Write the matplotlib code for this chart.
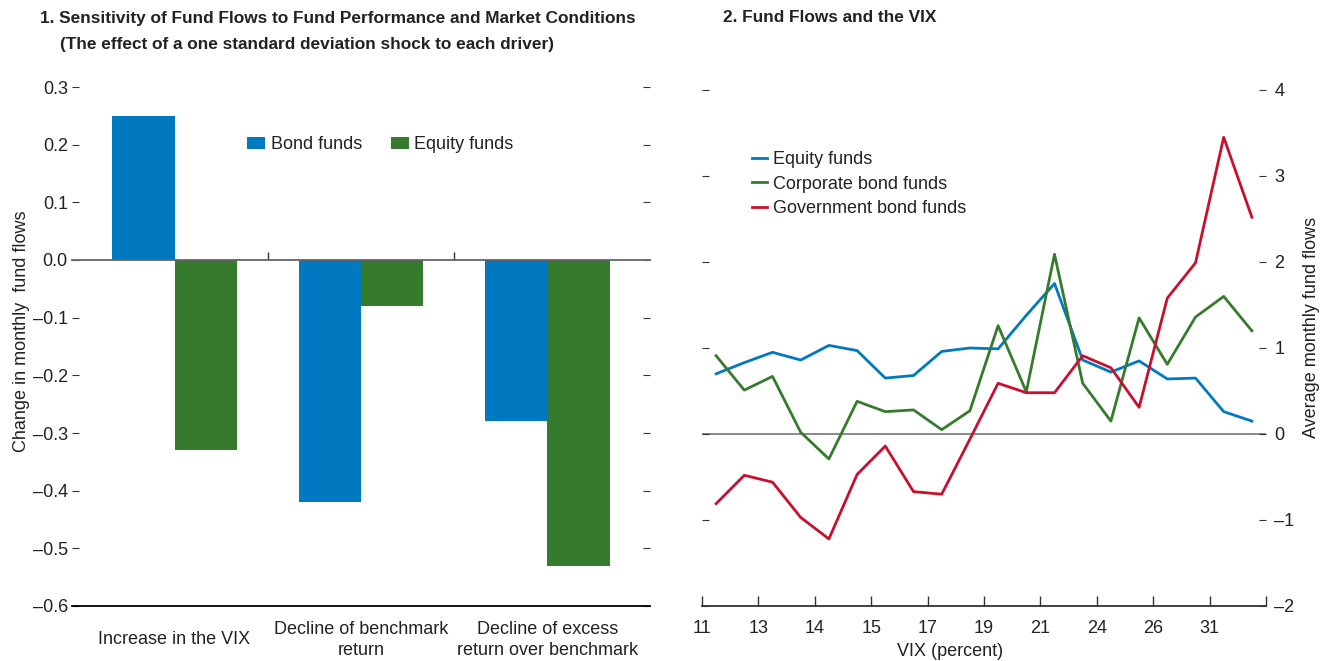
import matplotlib
matplotlib.use("Agg")
import matplotlib.pyplot as plt
import numpy as np

plt.rcParams['font.family'] = ['Liberation Sans', 'DejaVu Sans']

# ---------------- data ----------------
drivers = ["Increase in the VIX", "Decline of benchmark\nreturn", "Decline of excess\nreturn over benchmark"]
bond_funds = [0.25, -0.42, -0.28]
equity_funds = [-0.33, -0.08, -0.53]

vix_tick_labels = ["11", "13", "14", "15", "17", "19", "21", "24", "26", "31", ""]
equity_flows = [0.70, 0.83, 0.95, 0.86, 1.03, 0.97, 0.65, 0.68, 0.96, 1.00,
                0.99, 1.38, 1.75, 0.86, 0.72, 0.85, 0.64, 0.65, 0.26, 0.15]
corp_bond_flows = [0.91, 0.51, 0.67, 0.02, -0.29, 0.38, 0.26, 0.28, 0.05, 0.27,
                   1.26, 0.49, 2.09, 0.59, 0.15, 1.35, 0.81, 1.36, 1.60, 1.20]
gov_bond_flows = [-0.81, -0.48, -0.56, -0.97, -1.22, -0.47, -0.14, -0.67, -0.70, -0.06,
                  0.59, 0.48, 0.48, 0.91, 0.77, 0.31, 1.58, 1.99, 3.45, 2.52]

BLUE = "#0079C1"
GREEN = "#367B2D"
RED = "#C8102E"
TXT = "#222222"
FS = 13
TFS = 12.4

W, H = 1321, 661
fig = plt.figure(figsize=(W / 100, H / 100), dpi=100)

def box(l, t, r, b):
    return [l / W, 1 - b / H, (r - l) / W, (b - t) / H]

def fmt(v, nd):
    v = round(v, nd)
    if v == 0:
        v = 0.0
    s = f"{v:.{nd}f}"
    return s.replace("-", "\u2013")

# ---------------- panel 1 ----------------
ax1 = fig.add_axes(box(72, 87, 650, 606))
x = np.arange(len(drivers))
bw = 0.333
ax1.bar(x - bw / 2, bond_funds, bw, color=BLUE, label="Bond funds", zorder=2)
ax1.bar(x + bw / 2, equity_funds, bw, color=GREEN, label="Equity funds", zorder=2)
ax1.set_xlim(-0.55, 2.55)
ax1.set_ylim(-0.6, 0.3)
yt1 = np.round(np.arange(-0.6, 0.31, 0.1), 1)
ax1.set_yticks(yt1)
ax1.set_yticklabels([fmt(v, 1) for v in yt1])
for s in ["left", "right", "top"]:
    ax1.spines[s].set_visible(False)
ax1.spines["bottom"].set_position(("data", 0))
ax1.spines["bottom"].set_color("#666666")
ax1.spines["bottom"].set_linewidth(1.3)
ax1.spines["bottom"].set_zorder(3)
ax1.set_xticks([0.5, 1.5])
ax1.set_xticklabels([])
ax1.tick_params(axis="x", direction="in", length=6, width=1, color="#333333")
ax1.tick_params(axis="y", direction="in", length=5, width=0.8, color="#333333",
                left=True, right=True, labelleft=True, labelright=False,
                labelsize=FS, labelcolor=TXT, pad=3)
ax1.axhline(-0.6, color="black", lw=1.3, clip_on=False, zorder=3)
for i, lab in enumerate(drivers):
    ax1.annotate(lab, xy=(i, 0), xycoords=("data", "axes fraction"),
                 xytext=(0, -34), textcoords="offset pixels",
                 ha="center", va="center", fontsize=FS, color=TXT, linespacing=1.3)
ax1.set_ylabel("Change in monthly  fund flows", fontsize=FS, color=TXT, va="center")
ax1.yaxis.set_label_coords((22 - 72) / 578, 0.53)
ax1.legend(loc="upper left", bbox_to_anchor=((240 - 72) / 578, (606 - 129) / 519),
           ncol=2, frameon=False, fontsize=FS, handlelength=1.0, handleheight=0.7,
           handletextpad=0.3, columnspacing=1.6, borderaxespad=0, labelcolor=TXT)

# ---------------- panel 2 ----------------
ax2 = fig.add_axes(box(702, 90, 1266, 606))
xi = np.arange(len(equity_flows))
ax2.axhline(0, color="#808080", lw=1.3, zorder=1)
ax2.plot(xi, equity_flows, color=BLUE, lw=2, label="Equity funds", zorder=3)
ax2.plot(xi, corp_bond_flows, color=GREEN, lw=2, label="Corporate bond funds", zorder=3)
ax2.plot(xi, gov_bond_flows, color=RED, lw=2, label="Government bond funds", zorder=3)
ax2.set_xlim(-0.5, len(xi) - 0.5)
ax2.set_ylim(-2, 4)
ax2.set_xticks(np.arange(-0.5, len(xi), 2))
ax2.set_xticklabels(vix_tick_labels)
for s in ["left", "right", "top"]:
    ax2.spines[s].set_visible(False)
ax2.spines["bottom"].set_color("#333333")
ax2.spines["bottom"].set_linewidth(1.3)
ax2.tick_params(axis="x", direction="in", length=7, width=1, color="#333333",
                labelsize=FS, labelcolor=TXT, pad=10)
yt2 = np.arange(-2, 5, 1)
ax2.set_yticks(yt2)
ax2.set_yticklabels([fmt(v, 0) for v in yt2])
ax2.tick_params(axis="y", direction="in", length=5, width=0.8, color="#333333",
                left=True, right=True, labelleft=False, labelright=True,
                labelsize=FS, labelcolor=TXT, pad=6)
ax2.set_xlabel("VIX (percent)", fontsize=FS, color=TXT)
ax2.xaxis.set_label_coords(0.44, -0.072)
ax2.yaxis.set_label_position("right")
ax2.set_ylabel("Average monthly fund flows", fontsize=FS, color=TXT, rotation=90, va="center")
ax2.yaxis.set_label_coords((1311 - 702) / 564, 0.54)
ax2.legend(loc="upper left", bbox_to_anchor=((745 - 702) / 564, (606 - 144) / 516),
           frameon=False, fontsize=FS, handlelength=0.8, handletextpad=0.35,
           labelspacing=0.42, borderaxespad=0, labelcolor=TXT)

# ---------------- titles ----------------
fig.text(40 / W, 1 - 18 / H, "1. Sensitivity of Fund Flows to Fund Performance and Market Conditions",
         fontsize=TFS, fontweight="bold", color=TXT, ha="left", va="center")
fig.text(60 / W, 1 - 44 / H, "(The effect of a one standard deviation shock to each driver)",
         fontsize=TFS, fontweight="bold", color=TXT, ha="left", va="center")
fig.text(723 / W, 1 - 18 / H, "2. Fund Flows and the VIX",
         fontsize=TFS, fontweight="bold", color=TXT, ha="left", va="center")

fig.savefig("out.png", dpi=100)
